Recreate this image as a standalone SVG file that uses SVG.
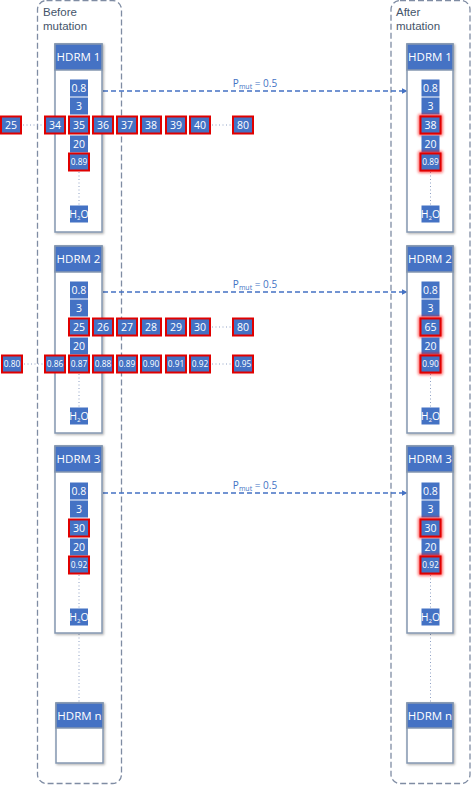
<svg xmlns="http://www.w3.org/2000/svg" width="474" height="786" viewBox="0 0 474 786">
<defs>
<style>
.bg{fill:#fff}
.cont{fill:none;stroke:#7F8CA3;stroke-width:1.3;stroke-dasharray:6,3}
.lbl{font-family:"Liberation Sans","Open Sans",sans-serif;font-size:11.5px;fill:#44546A}
.box{fill:#fff;stroke:#8497B0;stroke-width:1.5}
.hdr{fill:#4472C4;stroke:#8497B0;stroke-width:1.5}
.ht{font-family:"Open Sans","Liberation Sans",sans-serif;font-size:11.5px;fill:#fff;text-anchor:middle}
.it{fill:#4472C4}
.red{fill:#4472C4;stroke:#E00000;stroke-width:2}
.glow{fill:none;stroke:#FF1010;stroke-width:4;opacity:0.8}
.t{font-family:"Open Sans","Liberation Sans",sans-serif;font-size:10.5px;fill:#fff;text-anchor:middle}
.ts{font-size:8.3px}
.dot{stroke:#8EA0C4;stroke-width:1;stroke-dasharray:1,2.5;fill:none}
.arr{stroke:#4472C4;stroke-width:1.5;stroke-dasharray:5,3;fill:none}
.pl{font-family:"Open Sans","Liberation Sans",sans-serif;font-size:10px;fill:#4472C4;text-anchor:middle}
</style>
<filter id="gl" x="-50%" y="-50%" width="200%" height="200%"><feGaussianBlur stdDeviation="1.5"/></filter>
<filter id="sh" x="-10%" y="-10%" width="130%" height="130%"><feDropShadow dx="1.2" dy="1.2" stdDeviation="0.8" flood-color="#000" flood-opacity="0.3"/></filter>
<marker id="ah" viewBox="0 0 10 10" refX="9" refY="5" markerWidth="6" markerHeight="6" orient="auto" markerUnits="userSpaceOnUse"><path d="M0,0 L10,5 L0,10 z" fill="#4472C4"/></marker>
</defs>
<rect class="bg" x="0" y="0" width="474" height="786"/>

<g id="before-mutation">
<rect class="cont" x="37.5" y="0.5" width="84" height="783" rx="9"/>
<text class="lbl" x="43" y="16">Before</text>
<text class="lbl" x="43" y="30">mutation</text>
</g>
<g id="after-mutation">
<rect class="cont" x="391" y="0.5" width="79" height="783" rx="9"/>
<text class="lbl" x="396" y="16">After</text>
<text class="lbl" x="396" y="30">mutation</text>
</g>

<g id="connectors">
<line class="arr" x1="103" y1="91" x2="407" y2="91" marker-end="url(#ah)"/>
<text class="pl" x="255" y="87">P<tspan font-size="7" dy="2">mut</tspan><tspan dy="-2"> = 0.5</tspan></text>
<line class="arr" x1="103" y1="292" x2="407" y2="292" marker-end="url(#ah)"/>
<text class="pl" x="255" y="288">P<tspan font-size="7" dy="2">mut</tspan><tspan dy="-2"> = 0.5</tspan></text>
<line class="arr" x1="103" y1="493" x2="407" y2="493" marker-end="url(#ah)"/>
<text class="pl" x="255" y="489">P<tspan font-size="7" dy="2">mut</tspan><tspan dy="-2"> = 0.5</tspan></text>
<line class="dot" x1="79" y1="634" x2="79" y2="702"/>
<line class="dot" x1="430.5" y1="634" x2="430.5" y2="702"/>
</g>

<g id="hdrm1-before">
<g filter="url(#sh)"><rect class="box" x="55" y="44" width="47" height="188"/><rect class="hdr" x="55" y="44" width="47" height="26"/></g>
<text class="ht" x="78.5" y="61">HDRM 1</text>
<line class="dot" x1="79" y1="172" x2="79" y2="205"/>
<rect class="it" x="70" y="79.5" width="18" height="17"/><text class="t" x="79" y="91.8">0.8</text>
<rect class="it" x="70" y="97.5" width="18" height="17"/><text class="t" x="79" y="109.8">3</text>
<rect class="it" x="70" y="135.5" width="18" height="17"/><text class="t" x="79" y="147.8">20</text>
<rect class="red" x="69" y="153.5" width="20" height="17"/><text class="t ts" x="79" y="165">0.89</text>
<rect class="it" x="70" y="205.5" width="18" height="17"/><text class="t" x="79" y="217.5">H<tspan font-size="6" dy="2">2</tspan><tspan dy="-2">O</tspan></text>
</g>
<g id="row-hdrm1">
<line class="dot" x1="23" y1="125" x2="44" y2="125"/>
<line class="dot" x1="212" y1="125" x2="232" y2="125"/>
<rect class="red" x="1" y="116.5" width="20" height="17"/><text class="t" x="11" y="128.8">25</text>
<rect class="red" x="45" y="116.5" width="20" height="17"/><text class="t" x="55" y="128.8">34</text>
<rect class="red" x="69" y="116.5" width="20" height="17"/><text class="t" x="79" y="128.8">35</text>
<rect class="red" x="93" y="116.5" width="20" height="17"/><text class="t" x="103" y="128.8">36</text>
<rect class="red" x="117" y="116.5" width="20" height="17"/><text class="t" x="127" y="128.8">37</text>
<rect class="red" x="141" y="116.5" width="20" height="17"/><text class="t" x="151" y="128.8">38</text>
<rect class="red" x="166" y="116.5" width="20" height="17"/><text class="t" x="176" y="128.8">39</text>
<rect class="red" x="190" y="116.5" width="20" height="17"/><text class="t" x="200" y="128.8">40</text>
<rect class="red" x="233" y="116.5" width="20" height="17"/><text class="t" x="243" y="128.8">80</text>
</g>

<g id="hdrm2-before">
<g filter="url(#sh)"><rect class="box" x="55" y="246" width="47" height="187"/><rect class="hdr" x="55" y="246" width="47" height="26"/></g>
<text class="ht" x="78.5" y="263">HDRM 2</text>
<line class="dot" x1="79" y1="374" x2="79" y2="407"/>
<rect class="it" x="70" y="281.5" width="18" height="17"/><text class="t" x="79" y="293.8">0.8</text>
<rect class="it" x="70" y="299.5" width="18" height="17"/><text class="t" x="79" y="311.8">3</text>
<rect class="it" x="70" y="337.5" width="18" height="17"/><text class="t" x="79" y="349.8">20</text>
<rect class="it" x="70" y="407.5" width="18" height="17"/><text class="t" x="79" y="419.5">H<tspan font-size="6" dy="2">2</tspan><tspan dy="-2">O</tspan></text>
</g>
<g id="row-hdrm2-a">
<line class="dot" x1="212" y1="327" x2="232" y2="327"/>
<rect class="red" x="69" y="318.5" width="20" height="17"/><text class="t" x="79" y="330.8">25</text>
<rect class="red" x="93" y="318.5" width="20" height="17"/><text class="t" x="103" y="330.8">26</text>
<rect class="red" x="117" y="318.5" width="20" height="17"/><text class="t" x="127" y="330.8">27</text>
<rect class="red" x="141" y="318.5" width="20" height="17"/><text class="t" x="151" y="330.8">28</text>
<rect class="red" x="166" y="318.5" width="20" height="17"/><text class="t" x="176" y="330.8">29</text>
<rect class="red" x="190" y="318.5" width="20" height="17"/><text class="t" x="200" y="330.8">30</text>
<rect class="red" x="233" y="318.5" width="20" height="17"/><text class="t" x="243" y="330.8">80</text>
</g>
<g id="row-hdrm2-b">
<line class="dot" x1="24" y1="364" x2="44" y2="364"/>
<line class="dot" x1="212" y1="364" x2="232" y2="364"/>
<rect class="red" x="2" y="355.5" width="20" height="17"/><text class="t ts" x="12" y="367">0.80</text>
<rect class="red" x="45" y="355.5" width="20" height="17"/><text class="t ts" x="55" y="367">0.86</text>
<rect class="red" x="69" y="355.5" width="20" height="17"/><text class="t ts" x="79" y="367">0.87</text>
<rect class="red" x="93" y="355.5" width="20" height="17"/><text class="t ts" x="103" y="367">0.88</text>
<rect class="red" x="117" y="355.5" width="20" height="17"/><text class="t ts" x="127" y="367">0.89</text>
<rect class="red" x="141" y="355.5" width="20" height="17"/><text class="t ts" x="151" y="367">0.90</text>
<rect class="red" x="166" y="355.5" width="20" height="17"/><text class="t ts" x="176" y="367">0.91</text>
<rect class="red" x="190" y="355.5" width="20" height="17"/><text class="t ts" x="200" y="367">0.92</text>
<rect class="red" x="233" y="355.5" width="20" height="17"/><text class="t ts" x="243" y="367">0.95</text>
</g>

<g id="hdrm3-before">
<g filter="url(#sh)"><rect class="box" x="55" y="446" width="47" height="187"/><rect class="hdr" x="55" y="446" width="47" height="26"/></g>
<text class="ht" x="78.5" y="463">HDRM 3</text>
<line class="dot" x1="79" y1="575" x2="79" y2="608"/>
<rect class="it" x="70" y="482.5" width="18" height="17"/><text class="t" x="79" y="494.8">0.8</text>
<rect class="it" x="70" y="500.5" width="18" height="17"/><text class="t" x="79" y="512.8">3</text>
<rect class="red" x="69" y="519.5" width="20" height="17"/><text class="t" x="79" y="531.8">30</text>
<rect class="it" x="70" y="538.5" width="18" height="17"/><text class="t" x="79" y="550.8">20</text>
<rect class="red" x="69" y="556.5" width="20" height="17"/><text class="t ts" x="79" y="568">0.92</text>
<rect class="it" x="70" y="608.5" width="18" height="17"/><text class="t" x="79" y="620.5">H<tspan font-size="6" dy="2">2</tspan><tspan dy="-2">O</tspan></text>
</g>

<g id="hdrmn-before">
<g filter="url(#sh)"><rect class="box" x="56" y="703" width="47" height="60"/><rect class="hdr" x="56" y="703" width="47" height="25"/></g>
<text class="ht" x="79.5" y="720">HDRM n</text>
</g>

<g id="hdrm1-after">
<g filter="url(#sh)"><rect class="box" x="407" y="44" width="46" height="188"/><rect class="hdr" x="407" y="44" width="46" height="26"/></g>
<text class="ht" x="430" y="61">HDRM 1</text>
<line class="dot" x1="430.5" y1="172" x2="430.5" y2="205"/>
<rect class="it" x="421.5" y="79.5" width="18" height="17"/><text class="t" x="430.5" y="91.8">0.8</text>
<rect class="it" x="421.5" y="97.5" width="18" height="17"/><text class="t" x="430.5" y="109.8">3</text>
<rect class="glow" x="420.5" y="116.5" width="20" height="17" filter="url(#gl)"/>
<rect class="red" x="420.5" y="116.5" width="20" height="17"/><text class="t" x="430.5" y="128.8">38</text>
<rect class="it" x="421.5" y="135.5" width="18" height="17"/><text class="t" x="430.5" y="147.8">20</text>
<rect class="glow" x="420.5" y="153.5" width="20" height="17" filter="url(#gl)"/>
<rect class="red" x="420.5" y="153.5" width="20" height="17"/><text class="t ts" x="430.5" y="165">0.89</text>
<rect class="it" x="421.5" y="205.5" width="18" height="17"/><text class="t" x="430.5" y="217.5">H<tspan font-size="6" dy="2">2</tspan><tspan dy="-2">O</tspan></text>
</g>

<g id="hdrm2-after">
<g filter="url(#sh)"><rect class="box" x="407" y="246" width="46" height="187"/><rect class="hdr" x="407" y="246" width="46" height="26"/></g>
<text class="ht" x="430" y="263">HDRM 2</text>
<line class="dot" x1="430.5" y1="374" x2="430.5" y2="407"/>
<rect class="it" x="421.5" y="281.5" width="18" height="17"/><text class="t" x="430.5" y="293.8">0.8</text>
<rect class="it" x="421.5" y="299.5" width="18" height="17"/><text class="t" x="430.5" y="311.8">3</text>
<rect class="glow" x="420.5" y="318.5" width="20" height="17" filter="url(#gl)"/>
<rect class="red" x="420.5" y="318.5" width="20" height="17"/><text class="t" x="430.5" y="330.8">65</text>
<rect class="it" x="421.5" y="337.5" width="18" height="17"/><text class="t" x="430.5" y="349.8">20</text>
<rect class="glow" x="420.5" y="355.5" width="20" height="17" filter="url(#gl)"/>
<rect class="red" x="420.5" y="355.5" width="20" height="17"/><text class="t ts" x="430.5" y="367">0.90</text>
<rect class="it" x="421.5" y="407.5" width="18" height="17"/><text class="t" x="430.5" y="419.5">H<tspan font-size="6" dy="2">2</tspan><tspan dy="-2">O</tspan></text>
</g>

<g id="hdrm3-after">
<g filter="url(#sh)"><rect class="box" x="407" y="446" width="46" height="187"/><rect class="hdr" x="407" y="446" width="46" height="26"/></g>
<text class="ht" x="430" y="463">HDRM 3</text>
<line class="dot" x1="430.5" y1="575" x2="430.5" y2="608"/>
<rect class="it" x="421.5" y="482.5" width="18" height="17"/><text class="t" x="430.5" y="494.8">0.8</text>
<rect class="it" x="421.5" y="500.5" width="18" height="17"/><text class="t" x="430.5" y="512.8">3</text>
<rect class="glow" x="420.5" y="519.5" width="20" height="17" filter="url(#gl)"/>
<rect class="red" x="420.5" y="519.5" width="20" height="17"/><text class="t" x="430.5" y="531.8">30</text>
<rect class="it" x="421.5" y="538.5" width="18" height="17"/><text class="t" x="430.5" y="550.8">20</text>
<rect class="glow" x="420.5" y="556.5" width="20" height="17" filter="url(#gl)"/>
<rect class="red" x="420.5" y="556.5" width="20" height="17"/><text class="t ts" x="430.5" y="568">0.92</text>
<rect class="it" x="421.5" y="608.5" width="18" height="17"/><text class="t" x="430.5" y="620.5">H<tspan font-size="6" dy="2">2</tspan><tspan dy="-2">O</tspan></text>
</g>

<g id="hdrmn-after">
<g filter="url(#sh)"><rect class="box" x="407" y="703" width="46" height="60"/><rect class="hdr" x="407" y="703" width="46" height="25"/></g>
<text class="ht" x="430" y="720">HDRM n</text>
</g>
</svg>
